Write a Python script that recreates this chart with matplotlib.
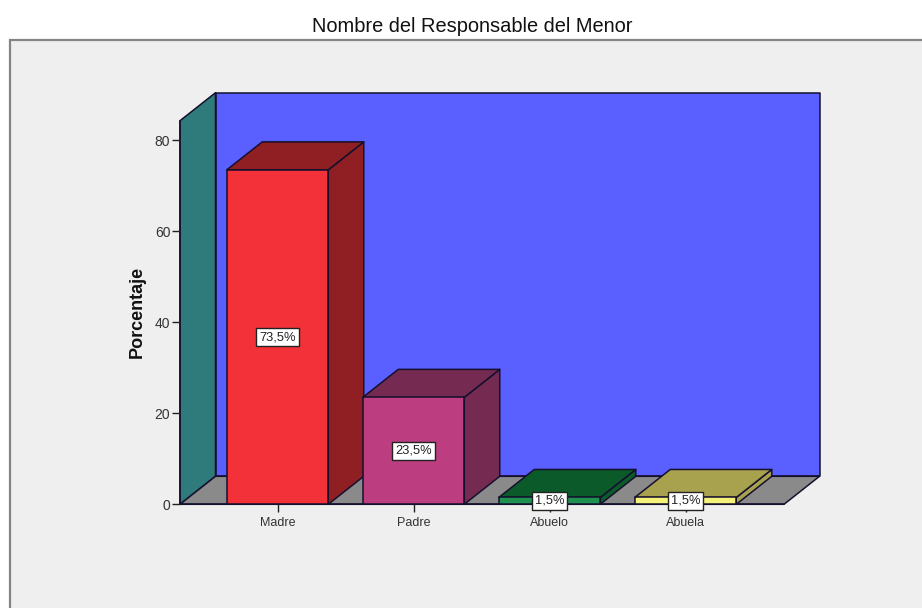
import matplotlib
matplotlib.use('Agg')
import matplotlib.pyplot as plt
from matplotlib.patches import Polygon, Rectangle

categorias = ['Madre', 'Padre', 'Abuelo', 'Abuela']
porcentajes = [73.5, 23.5, 1.5, 1.5]
etiquetas = ['73,5%', '23,5%', '1,5%', '1,5%']
yticks = [0, 20, 40, 60, 80]

titulo = 'Nombre del Responsable del Menor'
ylabel = 'Porcentaje'

colorFrente = ['#F23238', '#BC3E80', '#1F9150', '#F5F27A']
colorOscuro = ['#8F1F22', '#752A52', '#0B5A2A', '#A8A24F']

W, H = 922, 608
plt.rcParams['font.family'] = ['Liberation Sans', 'DejaVu Sans']

fig = plt.figure(figsize=(W / 100, H / 100), dpi=100, facecolor='white')

# panel gris de fondo (sale por la derecha y por abajo)
fig.add_artist(Rectangle((10 / W, -0.02), 1.0, (H - 40) / H + 0.02, transform=fig.transFigure,
                         facecolor='#EFEFEF', edgecolor='#858585', lw=1.6, zorder=-1))

# ejes: caja frontal del grafico, en pixeles 180-784 / 121-504
ax = fig.add_axes([180 / W, (H - 504.3) / H, 604 / W, 383.6 / H])
ax.patch.set_visible(False)

pxCat = 136.0   # pixeles entre categorias
pxPct = 4.55    # pixeles por 1%
x0 = -97.5 / pxCat
x1 = x0 + 604 / pxCat
yTop = 383.6 / pxPct
ax.set_xlim(x0, x1)
ax.set_ylim(0, yTop)

dx = 35.5 / pxCat  # profundidad 3D
dy = 28.0 / pxPct
ancho = 101.5 / pxCat
ec = '#14102E'
lw = 1.1


def poly(pts, color, z):
    ax.add_patch(Polygon(pts, closed=True, facecolor=color, edgecolor=ec, lw=lw,
                         joinstyle='round', clip_on=False, zorder=z))


# paredes y suelo
poly([(x0 + dx, dy), (x1 + dx, dy), (x1 + dx, yTop + dy), (x0 + dx, yTop + dy)], '#5A5FFF', 1)
poly([(x0, 0), (x0 + dx, dy), (x0 + dx, yTop + dy), (x0, yTop)], '#2F7A7A', 1.1)
poly([(x0, 0), (x1, 0), (x1 + dx, dy), (x0 + dx, dy)], '#8A8A8A', 1.2)

# barras
for i, v in enumerate(porcentajes):
    a = i - ancho / 2
    b = i + ancho / 2
    z = 2 + i * 0.1
    poly([(b, 0), (b + dx, dy), (b + dx, v + dy), (b, v)], colorOscuro[i], z)
    poly([(a, v), (b, v), (b + dx, v + dy), (a + dx, v + dy)], colorOscuro[i], z)
    poly([(a, 0), (b, 0), (b, v), (a, v)], colorFrente[i], z + 0.01)
    ax.text(i, v / 2, etiquetas[i], ha='center', va='center', fontsize=9.3, color='#222222', zorder=5,
            bbox=dict(boxstyle='square,pad=0.24', facecolor='white', edgecolor='#222222', lw=1.0))

ax.set_xticks(range(len(categorias)))
ax.set_xticklabels(categorias)
ax.set_yticks(yticks)
ax.tick_params(axis='x', length=6, width=1, color='#222222', labelsize=9, labelcolor='#333333', pad=3.5)
ax.tick_params(axis='y', length=5.5, width=1, color='#222222', labelsize=10, labelcolor='#333333', pad=1.5)
ax.spines['top'].set_visible(False)
ax.spines['right'].set_visible(False)
for s in ['left', 'bottom']:
    ax.spines[s].set_linewidth(1.1)
    ax.spines[s].set_color(ec)
    ax.spines[s].set_zorder(1.5)

fig.text(472 / W, 1 - 26 / H, titulo, ha='center', va='center', fontsize=14.4, color='#111111')
fig.text(137 / W, 1 - 311.5 / H, ylabel, ha='center', va='center', rotation=90, fontsize=13,
         fontweight='bold', color='#111111')

fig.savefig('out.png', dpi=100, facecolor='white')
